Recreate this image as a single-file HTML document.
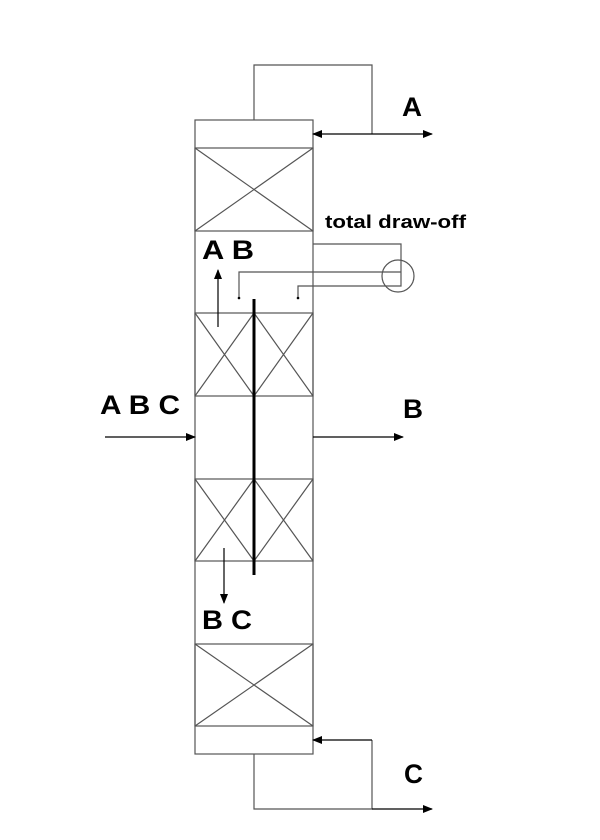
<!DOCTYPE html>
<html><head><style>body{margin:0;background:#fff}svg{display:block}text{font-family:"Liberation Sans",sans-serif;font-weight:bold;fill:#000}</style></head>
<body>
<svg width="600" height="840" viewBox="0 0 600 840" xmlns="http://www.w3.org/2000/svg">
<defs><marker id="a" markerWidth="10" markerHeight="8" refX="9" refY="4" orient="auto" markerUnits="userSpaceOnUse"><path d="M0,0L10,4L0,8z" fill="#000"/></marker></defs>
<g fill="none" stroke="#555" stroke-width="1.2">
<rect x="195" y="120" width="118" height="634"/>
<rect x="195" y="148" width="118" height="83"/><path d="M195,148L313,231M313,148L195,231"/>
<rect x="195" y="313" width="118" height="83"/><path d="M195,313L254,396M254,313L195,396M254,313L313,396M313,313L254,396"/>
<rect x="195" y="479" width="118" height="82"/><path d="M195,479L254,561M254,479L195,561M254,479L313,561M313,479L254,561"/>
<rect x="195" y="644" width="118" height="82"/><path d="M195,644L313,726M313,644L195,726"/>
<path d="M254,120V65H372V134"/>
<path d="M254,754V809H372V740"/>
<path d="M313,244H401V286H298V298"/>
<path d="M401,272H239V298"/>
<circle cx="398" cy="276" r="16"/>
</g>
<g stroke="#000" stroke-width="1.2" fill="none">
<path d="M372,134H432" marker-end="url(#a)"/><path d="M372,134H313" marker-end="url(#a)"/>
<path d="M372,809H432" marker-end="url(#a)"/><path d="M372,740H313" marker-end="url(#a)"/>
<path d="M105,437H195" marker-end="url(#a)"/><path d="M313,437H403" marker-end="url(#a)"/>
<path d="M218,327V270" marker-end="url(#a)"/><path d="M224,548V603" marker-end="url(#a)"/>
</g>
<circle cx="239" cy="298" r="1.3"/><circle cx="298" cy="298" r="1.3"/>
<path d="M254,299V575" stroke="#000" stroke-width="3"/>
<text x="402" y="116" font-size="27" textLength="20" lengthAdjust="spacingAndGlyphs">A</text>
<text x="325" y="228" font-size="18" textLength="141" lengthAdjust="spacingAndGlyphs">total draw-off</text>
<text x="202" y="259" font-size="27" textLength="52" lengthAdjust="spacingAndGlyphs">A B</text>
<text x="100" y="414" font-size="27" textLength="80" lengthAdjust="spacingAndGlyphs">A B C</text>
<text x="403" y="418" font-size="27" textLength="20" lengthAdjust="spacingAndGlyphs">B</text>
<text x="202" y="629" font-size="27" textLength="50" lengthAdjust="spacingAndGlyphs">B C</text>
<text x="404" y="783" font-size="27" textLength="19" lengthAdjust="spacingAndGlyphs">C</text>
</svg>
</body></html>
